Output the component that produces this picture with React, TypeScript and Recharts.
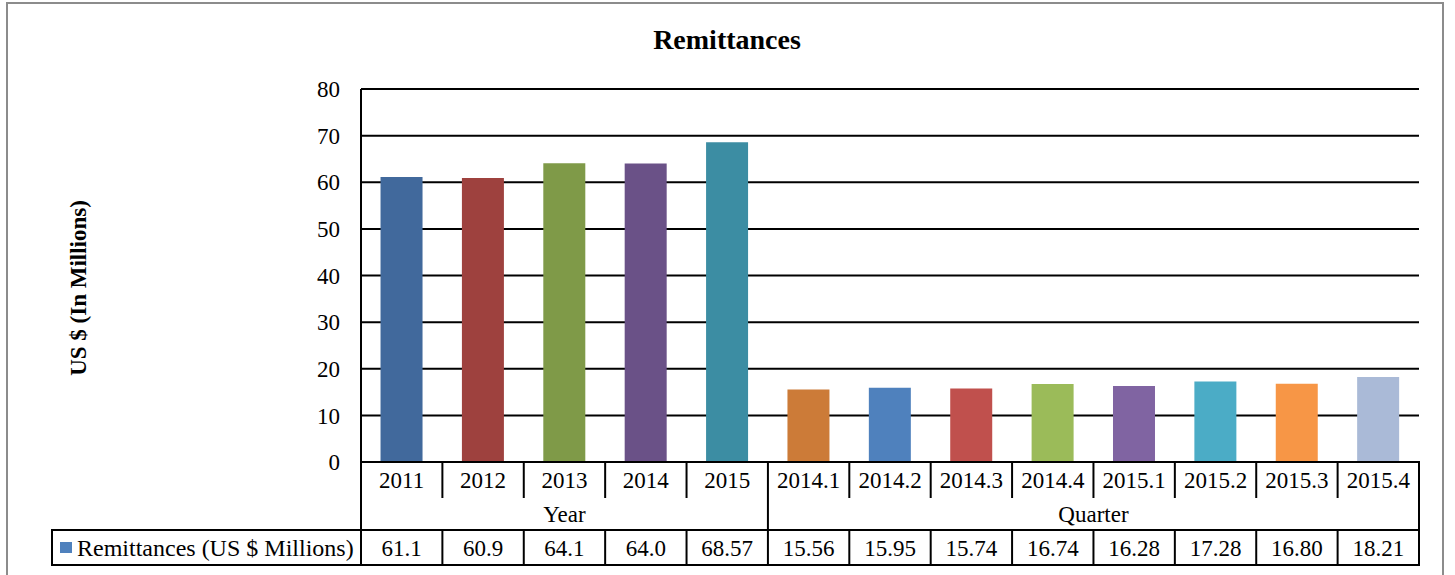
import React from 'react';
import { BarChart, Bar, XAxis, YAxis, CartesianGrid, Cell } from 'recharts';

// ---------- data ----------
const categories = ['2011', '2012', '2013', '2014', '2015', '2014.1', '2014.2', '2014.3', '2014.4', '2015.1', '2015.2', '2015.3', '2015.4'];
const values = [61.1, 60.9, 64.1, 64.0, 68.57, 15.56, 15.95, 15.74, 16.74, 16.28, 17.28, 16.8, 18.21];
const valueDecimals = [1, 1, 1, 1, 2, 2, 2, 2, 2, 2, 2, 2, 2];
const barColors = ['#41699C', '#9E413E', '#7F9A48', '#6A5187', '#3C8DA3', '#CC7B38', '#4F81BD', '#C0504D', '#9BBB59', '#8064A2', '#4BACC6', '#F79646', '#AABAD7'];
const groupLabels = ['Year', 'Quarter'];
const groupSizes = [5, 8];
const yTicks = [0, 10, 20, 30, 40, 50, 60, 70, 80];
const seriesName = 'Remittances (US $ Millions)';
const legendColor = '#4F81BD';
const chartTitle = 'Remittances';
const yAxisTitle = 'US $ (In Millions)';

const data = categories.map((c, i) => ({ category: c, value: values[i] }));

// ---------- layout ----------
const W = 1455;
const H = 575;
const PLOT_LEFT = 361;
const PLOT_RIGHT = 1419;
const PLOT_TOP = 89;
const PLOT_BOTTOM = 462;
const Y_AXIS_W = 60;
const X_AXIS_H = 110;
const BAND = (PLOT_RIGHT - PLOT_LEFT) / categories.length;
const ROW1_MID = 480;
const ROW1_BOTTOM = 497;
const ROW2_MID = 514;
const ROW2_BOTTOM = 530;
const ROW3_MID = 548;
const ROW3_BOTTOM = 565;
const LEGEND_LEFT = 52;
const FONT = '"Liberation Serif", "Times New Roman", serif';
const FS = 23;

const groupOf = (i: number) => {
  let start = 0;
  for (let g = 0; g < groupSizes.length; g++) {
    if (i < start + groupSizes[g]) return { g, start, end: start + groupSizes[g] - 1 };
    start += groupSizes[g];
  }
  return { g: 0, start: 0, end: 0 };
};

const XTick = (props: any) => {
  const { x, payload } = props;
  const i = categories.indexOf(payload.value);
  if (i < 0) return null;
  const left = x - BAND / 2;
  const right = x + BAND / 2;
  const grp = groupOf(i);
  const last = i === categories.length - 1;
  const groupEnd = i === grp.end;
  const lineProps = { stroke: '#000', strokeWidth: 2, strokeLinecap: 'square' as const };
  const textProps = { fontFamily: FONT, fontSize: FS, fill: '#000', textAnchor: 'middle' as const, dominantBaseline: 'central' as const };
  return (
    <g>
      <text x={x} y={ROW1_MID} {...textProps}>{payload.value}</text>
      {i === 0 && <line x1={left} y1={PLOT_BOTTOM} x2={left} y2={ROW3_BOTTOM} {...lineProps} />}
      {groupEnd || last ? (
        <line x1={right} y1={PLOT_BOTTOM} x2={right} y2={ROW3_BOTTOM} {...lineProps} />
      ) : (
        <>
          <line x1={right} y1={PLOT_BOTTOM} x2={right} y2={ROW1_BOTTOM} {...lineProps} />
          <line x1={right} y1={ROW2_BOTTOM} x2={right} y2={ROW3_BOTTOM} {...lineProps} />
        </>
      )}
      {i === grp.start && (
        <text x={left + (groupSizes[grp.g] * BAND) / 2} y={ROW2_MID} {...textProps}>{groupLabels[grp.g]}</text>
      )}
      <line x1={left} y1={ROW2_BOTTOM} x2={right} y2={ROW2_BOTTOM} {...lineProps} />
      <line x1={left} y1={ROW3_BOTTOM} x2={right} y2={ROW3_BOTTOM} {...lineProps} />
      <text x={x} y={ROW3_MID} {...textProps}>{values[i].toFixed(valueDecimals[i])}</text>
      {i === 0 && (
        <g>
          <rect x={LEGEND_LEFT} y={ROW2_BOTTOM} width={left - LEGEND_LEFT} height={ROW3_BOTTOM - ROW2_BOTTOM} fill="none" stroke="#000" strokeWidth={2} />
          <rect x={LEGEND_LEFT + 8} y={ROW3_MID - 6} width={12} height={11} fill={legendColor} />
          <text x={LEGEND_LEFT + 25} y={ROW3_MID} fontFamily={FONT} fontSize={24} fill="#000" dominantBaseline="central">{seriesName}</text>
        </g>
      )}
    </g>
  );
};

export default function App() {
  return (
    <div style={{ position: 'absolute', left: 0, top: 0, width: W, height: H, overflow: 'hidden', background: '#fff' }}>
      <div style={{ position: 'absolute', left: 6, top: 2, width: 1438, height: 700, border: '2px solid #8c8c8c', boxSizing: 'border-box' }} />
      <div
        style={{
          position: 'absolute', left: 0, top: 26, width: 1454, textAlign: 'center',
          fontFamily: FONT, fontWeight: 'bold', fontSize: 28, lineHeight: '28px', color: '#000',
        }}
      >
        {chartTitle}
      </div>
      <div
        style={{
          position: 'absolute', left: 78, top: 288, transform: 'translate(-50%, -50%) rotate(-90deg)',
          whiteSpace: 'nowrap', fontFamily: FONT, fontWeight: 'bold', fontSize: 23, lineHeight: '23px', color: '#000',
        }}
      >
        {yAxisTitle}
      </div>
      <div style={{ position: 'absolute', left: 0, top: 0 }}>
        <BarChart
          width={W}
          height={H}
          data={data}
          margin={{ top: PLOT_TOP, left: PLOT_LEFT - Y_AXIS_W, right: W - PLOT_RIGHT, bottom: H - PLOT_BOTTOM - X_AXIS_H }}
          barCategoryGap="24%"
        >
          <CartesianGrid vertical={false} stroke="#000" strokeWidth={2} />
          <XAxis
            dataKey="category"
            interval={0}
            height={X_AXIS_H}
            tickLine={false}
            axisLine={{ stroke: '#000', strokeWidth: 2 }}
            tick={<XTick />}
          />
          <YAxis
            width={Y_AXIS_W}
            domain={[0, 80]}
            ticks={yTicks}
            interval={0}
            tickLine={false}
            tickMargin={15}
            axisLine={{ stroke: '#000', strokeWidth: 2 }}
            tick={{ fontFamily: FONT, fontSize: FS, fill: '#000' }}
          />
          <Bar dataKey="value" isAnimationActive={false}>
            {data.map((d, i) => (
              <Cell key={d.category} fill={barColors[i]} />
            ))}
          </Bar>
        </BarChart>
      </div>
    </div>
  );
}
